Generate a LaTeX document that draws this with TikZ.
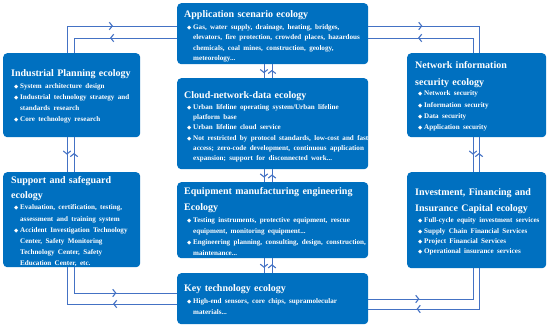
\documentclass[tikz,border=0pt]{standalone}
\usepackage{fontspec}
\setmainfont{Liberation Serif}
\newfontfamily\symf{DejaVu Sans}
\usetikzlibrary{arrows.meta,decorations.markings}
\definecolor{boxblue}{RGB}{0,112,192}
\definecolor{lineblue}{RGB}{68,114,196}
\newcommand\bulsym{{\symf\fontsize{5.5}{6}\selectfont ◆}}
\newcommand\ttl[1]{{\fontsize{10}{\tls pt}\selectfont #1\par}\vspace{\dimexpr\tg pt-\bls pt\relax}}
\newcommand\bul[1]{{\fontsize{7.1}{\bls pt}\selectfont\leftskip=3pt\hangindent=6pt\hangafter=1\noindent\makebox[6pt][l]{\bulsym}#1\par}}
\begin{document}
\begin{tikzpicture}[x=1pt,y=-1pt,
  box/.style={fill=boxblue, rounded corners=4pt, inner sep=0pt, anchor=north west},
  txt/.style={anchor=base west, inner sep=0pt, text width=#1, align=left, text=white, font=\bfseries},
  conn/.style={draw=lineblue, line width=0.9pt},
  tipat/.style={postaction={decorate}, decoration={markings, mark=at position #1 with {\arrow[lineblue, line width=1.1pt]{Straight Barb[length=3pt,width=7.5pt]}}}}
]
\useasboundingbox (0,0) rectangle (550,328);
\hyphenpenalty=10000
% boxes
\node[box, minimum width=191pt, minimum height=61pt] (app) at (177,3) {};
\node[box, minimum width=191pt, minimum height=91pt] (cloud) at (177,78) {};
\node[box, minimum width=191pt, minimum height=76pt] (equip) at (177,182) {};
\node[box, minimum width=191pt, minimum height=51pt] (key) at (177,273) {};
\node[box, minimum width=137pt, minimum height=84pt] (ind) at (3,53) {};
\node[box, minimum width=137pt, minimum height=95pt] (sup) at (3,172) {};
\node[box, minimum width=139pt, minimum height=84pt] (net) at (407,53) {};
\node[box, minimum width=139pt, minimum height=96pt] (inv) at (407,172) {};
% texts
\node[txt=190pt] (tapp) at (184,17.5) {\def\tls{16}\def\bls{10.3}\def\tg{12}%
\ttl{Application scenario ecology}%
\bul{Gas, water supply, drainage, heating, bridges,\newline elevators, fire protection, crowded places, hazardous\newline chemicals, coal mines, construction, geology,\newline meteorology...}};
\node[txt=190pt] (tcloud) at (184,98.5) {\def\tls{16}\def\bls{10.2}\def\tg{11}%
\ttl{Cloud-network-data ecology}%
\bul{Urban lifeline operating system/Urban lifeline\newline platform base}%
\bul{Urban lifeline cloud service}%
\bul{Not restricted by protocol standards, low-cost and fast\newline access; zero-code development, continuous application\newline expansion; support for disconnected work...}};
\node[txt=190pt] (tequip) at (184,195) {\def\tls{16}\def\bls{11}\def\tg{12}%
\ttl{Equipment manufacturing engineering\newline Ecology}%
\bul{Testing instruments, protective equipment, rescue\newline equipment, monitoring equipment...}%
\bul{Engineering planning, consulting, design, construction,\newline maintenance...}};
\node[txt=190pt] (tkey) at (184,292) {\def\tls{16}\def\bls{10.3}\def\tg{12}%
\ttl{Key technology ecology}%
\bul{High-end sensors, core chips, supramolecular\newline materials...}};
\node[txt=135pt] (tind) at (11,77) {\def\tls{16}\def\bls{11}\def\tg{12}%
\ttl{Industrial Planning ecology}%
\bul{System architecture design}%
\bul{Industrial technology strategy and\newline standards research}%
\bul{Core technology research}};
\node[txt=135pt] (tsup) at (11,184) {\def\tls{15}\def\bls{11.2}\def\tg{11}%
\ttl{Support and safeguard\newline ecology}%
\bul{Evaluation, certification, testing,\newline assessment and training system}%
\bul{Accident Investigation Technology\newline Center, Safety Monitoring\newline Technology Center, Safety\newline Education Center, etc.}};
\node[txt=135pt] (tnet) at (415,69) {\def\tls{17}\def\bls{11.3}\def\tg{10}%
\ttl{Network information\newline security ecology}%
\bul{Network security}%
\bul{Information security}%
\bul{Data security}%
\bul{Application security}};
\node[txt=135pt] (tinv) at (415,196) {\def\tls{16}\def\bls{10.3}\def\tg{11}%
\ttl{Investment, Financing and\newline Insurance Capital ecology}%
\bul{Full-cycle equity investment services}%
\bul{Supply Chain Financial Services}%
\bul{Project Financial Services}%
\bul{Operational insurance services}};
% lanes
\coordinate (xl1) at (67,0); \coordinate (xl2) at (74,0);
\coordinate (xr1) at (473,0); \coordinate (xr2) at (479,0);
\coordinate (xc1) at (264,0); \coordinate (xc2) at (272,0);
\coordinate (yt1) at (0,26); \coordinate (yt2) at (0,38);
\coordinate (ybl1) at (0,293); \coordinate (ybl2) at (0,304);
\coordinate (ybr1) at (0,299); \coordinate (ybr2) at (0,309);
% corner connectors
\draw[conn, tipat=73pt] (ind.north -| xl1) |- (app.west |- yt1);
\draw[conn, tipat=67pt] (app.west |- yt2) -| (ind.north -| xl2);
\draw[conn, tipat=54pt] (app.east |- yt1) -| (net.north -| xr2);
\draw[conn, tipat=70pt] (net.north -| xr1) |- (app.east |- yt2);
\draw[conn, tipat=68pt] (sup.south -| xl2) |- (key.west |- ybl1);
\draw[conn, tipat=64pt] (key.west |- ybl2) -| (sup.south -| xl1);
\draw[conn, tipat=51pt] (key.east |- ybr1) -| (inv.south -| xr1);
\draw[conn, tipat=103pt] (inv.south -| xr2) |- (key.east |- ybr2);
% vertical connectors
\draw[conn, tipat=0.65] (app.south -| xc1) -- (cloud.north -| xc1);
\draw[conn, tipat=0.6] (cloud.north -| xc2) -- (app.south -| xc2);
\draw[conn, tipat=0.65] (cloud.south -| xc1) -- (equip.north -| xc1);
\draw[conn, tipat=0.6] (equip.north -| xc2) -- (cloud.south -| xc2);
\draw[conn, tipat=0.65] (equip.south -| xc1) -- (key.north -| xc1);
\draw[conn, tipat=0.6] (key.north -| xc2) -- (equip.south -| xc2);
\draw[conn, tipat=0.5] (ind.south -| xl1) -- (sup.north -| xl1);
\draw[conn, tipat=0.55] (sup.north -| xl2) -- (ind.south -| xl2);
\draw[conn, tipat=0.5] (net.south -| xr1) -- (inv.north -| xr1);
\draw[conn, tipat=0.55] (inv.north -| xr2) -- (net.south -| xr2);
\end{tikzpicture}
\end{document}
